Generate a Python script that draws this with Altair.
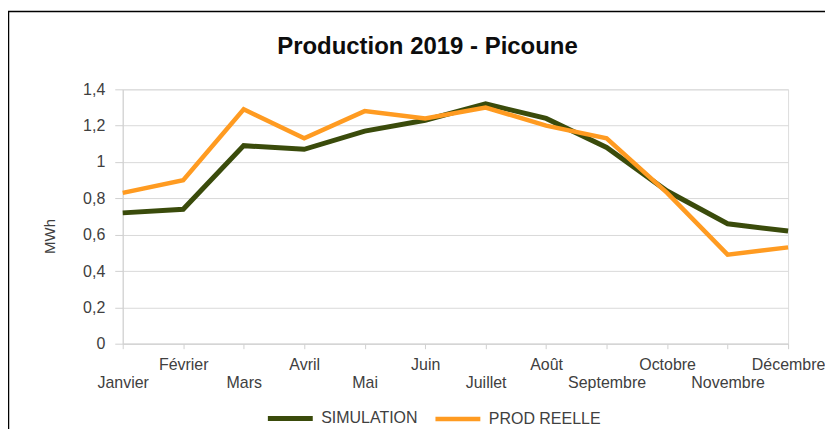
import altair as alt
import pandas as pd

months = ["Janvier", "Février", "Mars", "Avril", "Mai", "Juin", "Juillet",
          "Août", "Septembre", "Octobre", "Novembre", "Décembre"]
simulation = [0.72, 0.74, 1.09, 1.07, 1.17, 1.23, 1.32, 1.24, 1.08, 0.84, 0.66, 0.62]
prod_reelle = [0.83, 0.90, 1.29, 1.13, 1.28, 1.24, 1.30, 1.20, 1.13, 0.83, 0.49, 0.53]
series_names = ["SIMULATION", "PROD REELLE"]
series_colors = ["#3A4B0B", "#FF9B21"]
y_ticks = [0, 0.2, 0.4, 0.6, 0.8, 1.0, 1.2, 1.4]

rows = []
for name, vals in zip(series_names, [simulation, prod_reelle]):
    for i, (m, v) in enumerate(zip(months, vals)):
        rows.append({"Mois": m, "Série": name, "MWh": v, "ordre": i})
df = pd.DataFrame(rows)

FONT = "Liberation Sans"
lower_months = [m for i, m in enumerate(months) if i % 2 == 0]
label_expr = ("indexof(" + str(lower_months) + ", datum.value) >= 0 ? ['', datum.label] : datum.label")

lines = alt.Chart(df).mark_line(strokeJoin="miter").encode(
    x=alt.X("Mois:N", sort=months,
            scale=alt.Scale(type="point", padding=0),
            axis=alt.Axis(title=None, labelExpr=label_expr, labelAngle=0,
                          labelOverlap=False, labelBound=False,
                          labelLineHeight=18, labelPadding=8,
                          labelFont=FONT, labelFontSize=16, labelColor="#404040",
                          tickSize=5, tickColor="#d0d0d0", domainColor="#d0d0d0",
                          grid=False)),
    y=alt.Y("MWh:Q", scale=alt.Scale(domain=[0, 1.4], nice=False),
            axis=alt.Axis(title="MWh", values=y_ticks, format=",.1~f",
                          labelExpr="replace(datum.label, '.', ',')",
                          labelFont=FONT, labelFontSize=16, labelColor="#404040",
                          labelPadding=10, tickSize=8, tickColor="#d0d0d0",
                          domainColor="#d0d0d0", gridColor="#d9d9d9",
                          titleFont=FONT, titleFontSize=15, titleFontWeight="normal",
                          titleColor="#404040", titleX=-65, titleY=147)),
    color=alt.Color("Série:N", sort=series_names,
                    scale=alt.Scale(domain=series_names, range=series_colors),
                    legend=alt.Legend(title=None, orient="none", direction="horizontal",
                                      legendX=143, legendY=305,
                                      symbolType="stroke", symbolSize=2025,
                                      symbolStrokeWidth=5, labelOffset=6,
                                      columnPadding=8,
                                      labelFont=FONT, labelFontSize=16,
                                      labelColor="#404040")),
    strokeWidth=alt.StrokeWidth("Série:N", scale=alt.Scale(domain=series_names, range=[5, 4.5]),
                                legend=None),
    order=alt.Order("ordre:Q"),
)

frame_data = alt.Data(values=[{"f": 1}])
frame_top = alt.Chart(frame_data).mark_rule(color="#000000", strokeWidth=1.5).encode(
    x=alt.value(-115), x2=alt.value(712), y=alt.value(-78))
frame_left = alt.Chart(frame_data).mark_rule(color="#000000", strokeWidth=1.5).encode(
    x=alt.value(-114.5), y=alt.value(-78), y2=alt.value(345))

chart = alt.layer(frame_top, frame_left, lines).properties(
    width=667, height=255,
    autosize=alt.AutoSizeParams(type="none"),
    padding={"left": 115, "top": 81, "right": 37, "bottom": 85},
    title=alt.Title("Production 2019 - Picoune", font=FONT, fontSize=24,
                    fontWeight="bold", color="#0d0d0d", offset=32, dx=-28, dy=80,
                    anchor="middle"),
).configure_view(stroke="#d0d0d0").configure(background="white")

chart.save("out.html", embed_options={"renderer": "svg", "actions": False})
